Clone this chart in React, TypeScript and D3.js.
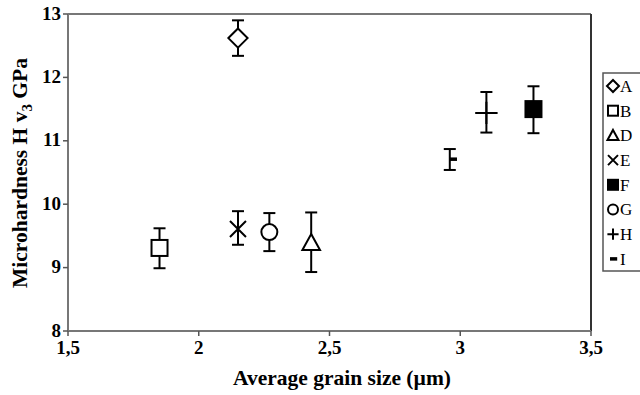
import React from "react";
import * as d3 from "d3";

const samples = ["A", "B", "D", "E", "F", "G", "H", "I"];
const grainSize = [2.15, 1.85, 2.43, 2.15, 3.28, 2.27, 3.1, 2.96];
const hardness = [12.62, 9.31, 9.39, 9.61, 11.5, 9.56, 11.44, 10.71];
const errLow = [12.34, 8.99, 8.93, 9.36, 11.12, 9.26, 11.13, 10.54];
const errHigh = [12.9, 9.62, 9.87, 9.89, 11.86, 9.86, 11.77, 10.87];
const symbols = ["diamond", "square", "triangle", "cross", "filledSquare", "circle", "plus", "dash"];
const xTicks = [1.5, 2, 2.5, 3, 3.5];
const yTicks = [8, 9, 10, 11, 12, 13];

const W = 640;
const H = 395;
const left = 68;
const right = 591;
const top = 14;
const bottom = 331;
const font = "'Liberation Serif', 'Times New Roman', serif";

function Marker({ type, x, y, s }: { type: string; x: number; y: number; s: number }) {
  const sw = 2;
  const st = { stroke: "#000", strokeWidth: sw, fill: "#fff" };
  switch (type) {
    case "diamond":
      return <path d={`M${x},${y - s * 0.6}L${x + s * 0.6},${y}L${x},${y + s * 0.6}L${x - s * 0.6},${y}Z`} {...st} />;
    case "square":
      return <rect x={x - s / 2} y={y - s / 2} width={s} height={s} {...st} />;
    case "filledSquare":
      return <rect x={x - s / 2} y={y - s / 2} width={s} height={s} {...st} fill="#000" />;
    case "triangle":
      return <path d={`M${x},${y - s * 0.55}L${x + s * 0.55},${y + s * 0.45}L${x - s * 0.55},${y + s * 0.45}Z`} {...st} />;
    case "circle":
      return <circle cx={x} cy={y} r={s / 2} {...st} />;
    case "cross":
      return (
        <path d={`M${x - s / 2},${y - s / 2}L${x + s / 2},${y + s / 2}M${x + s / 2},${y - s / 2}L${x - s / 2},${y + s / 2}`} stroke="#000" strokeWidth={sw} fill="none" />
      );
    case "plus":
      return <path d={`M${x - s * 0.7},${y}L${x + s * 0.7},${y}M${x},${y - s * 0.7}L${x},${y + s * 0.7}`} stroke="#000" strokeWidth={sw} fill="none" />;
    case "dash":
      return <rect x={x} y={y - 1.75} width={s * 0.45} height={3.5} fill="#000" />;
    default:
      return null;
  }
}

export default function App() {
  const x = d3.scaleLinear().domain([1.5, 3.5]).range([left, right]);
  const y = d3.scaleLinear().domain([8, 13]).range([bottom, top]);
  const legendX = 603;
  const legendTop = 73;
  const legendStep = 24.7;
  return (
    <svg width={W} height={H} style={{ position: "absolute", left: 0, top: 0, background: "#fff" }}>
      <rect x={0} y={0} width={W} height={H} fill="#fff" />
      {/* frame */}
      <line x1={left} y1={top} x2={right} y2={top} stroke="#777" strokeWidth={2} />
      <line x1={right} y1={top} x2={right} y2={bottom} stroke="#333" strokeWidth={2} />
      <line x1={left} y1={bottom} x2={right} y2={bottom} stroke="#777" strokeWidth={2} />
      <line x1={left} y1={top} x2={left} y2={bottom} stroke="#777" strokeWidth={2} />
      {yTicks.map((t) => (
        <g key={"y" + t}>
          <line x1={left - 5} x2={left} y1={y(t)} y2={y(t)} stroke="#555" strokeWidth={1.5} />
          <text x={left - 7} y={y(t) - 1} dy="0.35em" textAnchor="end" fontFamily={font} fontWeight="bold" fontSize={19}>
            {String(t)}
          </text>
        </g>
      ))}
      {xTicks.map((t) => (
        <g key={"x" + t}>
          <line x1={x(t)} x2={x(t)} y1={bottom} y2={bottom + 5} stroke="#555" strokeWidth={1.5} />
          <text x={x(t)} y={bottom + 23} textAnchor="middle" fontFamily={font} fontWeight="bold" fontSize={19}>
            {String(t).replace(".", ",")}
          </text>
        </g>
      ))}
      <text x={342} y={385} textAnchor="middle" fontFamily={font} fontWeight="bold" fontSize={21.5}>
        Average grain size (µm)
      </text>
      <text transform={`translate(27,${173}) rotate(-90)`} textAnchor="middle" fontFamily={font} fontWeight="bold" fontSize={21.5}>
        Microhardness H <tspan>v</tspan><tspan fontSize={15} dy={5}>3</tspan><tspan dy={-5}> GPa</tspan>
      </text>
      {/* data */}
      {samples.map((s, i) => {
        const cx = x(grainSize[i]);
        return (
          <g key={s}>
            <line x1={cx} x2={cx} y1={y(errLow[i])} y2={y(errHigh[i])} stroke="#000" strokeWidth={2} />
            <line x1={cx - 6} x2={cx + 6} y1={y(errLow[i])} y2={y(errLow[i])} stroke="#000" strokeWidth={2} />
            <line x1={cx - 6} x2={cx + 6} y1={y(errHigh[i])} y2={y(errHigh[i])} stroke="#000" strokeWidth={2} />
            <Marker type={symbols[i]} x={cx} y={y(hardness[i])} s={16} />
          </g>
        );
      })}
      {/* legend */}
      <rect x={legendX} y={legendTop} width={50} height={198} fill="#fff" stroke="#555" strokeWidth={1.5} />
      {samples.map((s, i) => {
        const ly = legendTop + 13 + i * legendStep;
        return (
          <g key={"l" + s}>
            <Marker type={symbols[i]} x={symbols[i] === "dash" ? 610 : 613} y={ly} s={symbols[i] === "plus" ? 8 : symbols[i] === "dash" ? 16 : 10} />
            <text x={620} y={ly} dy="0.35em" fontFamily={font} fontSize={17}>
              {s}
            </text>
          </g>
        );
      })}
    </svg>
  );
}
